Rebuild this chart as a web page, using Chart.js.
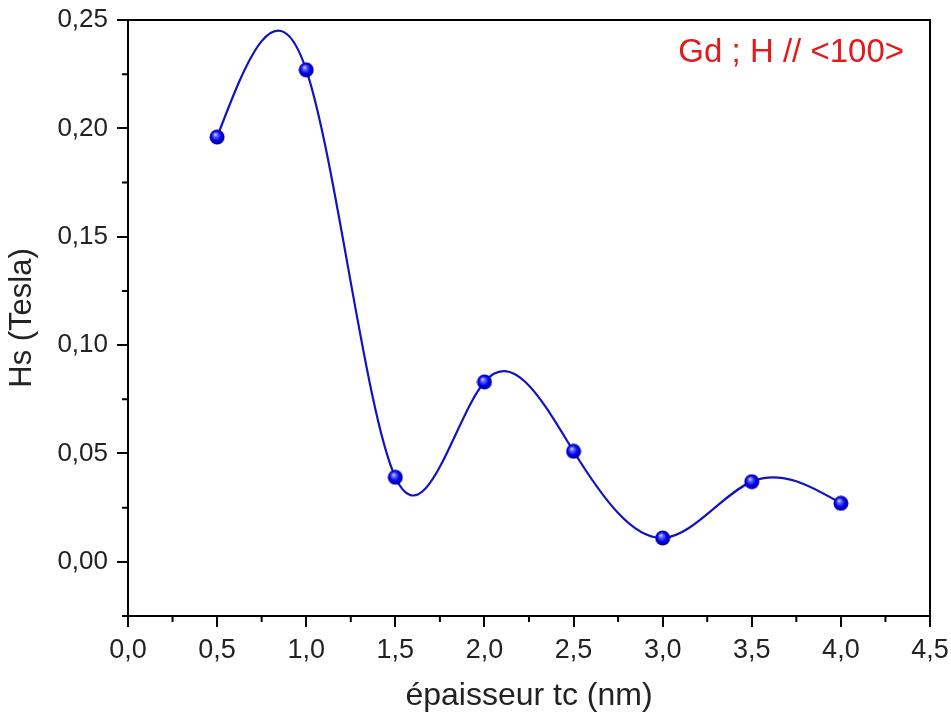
<!DOCTYPE html>
<html>
<head>
<meta charset="utf-8">
<script src="https://cdn.jsdelivr.net/npm/chart.js@4"></script>
<style>
  body { margin: 0; background: #fff; }
  #wrap { width: 951px; height: 715px; }
</style>
</head>
<body>
<div id="wrap"><canvas id="hsChart" width="951" height="715"></canvas></div>
<script>
// values
const thickness = [0.5, 1.0, 1.5, 2.0, 2.5, 3.0, 3.5, 4.0];
const hsTesla = [0.196, 0.227, 0.039, 0.083, 0.051, 0.011, 0.037, 0.027];
const xTicks = [0, 0.5, 1, 1.5, 2, 2.5, 3, 3.5, 4, 4.5];
const yTicks = [0, 0.05, 0.10, 0.15, 0.20, 0.25];
const annotation = "Gd ; H // <100>";

const FONT = "'Liberation Sans', Arial, sans-serif";
const comma = (v, d) => v.toFixed(d).replace(".", ",");

// little shaded ball for the markers
function makeBall(size) {
  const c = document.createElement("canvas");
  c.width = size;
  c.height = size;
  const g = c.getContext("2d");
  const r = size / 2;
  const grad = g.createRadialGradient(r * 0.75, r * 0.65, 0, r, r, r);
  grad.addColorStop(0, "#f0f0ff");
  grad.addColorStop(0.22, "#7070ff");
  grad.addColorStop(0.6, "#0000ee");
  grad.addColorStop(1, "#00008a");
  g.fillStyle = grad;
  g.beginPath();
  g.arc(r, r, r - 0.5, 0, Math.PI * 2);
  g.fill();
  return c;
}

// the original curve is a natural cubic spline (Origin "spline" connect);
// replace chart.js bezier control points with the spline ones
const splinePlugin = {
  id: "naturalSpline",
  beforeDatasetsDraw(chart) {
    const meta = chart.getDatasetMeta(0);
    const pts = meta.data;
    const n = pts.length;
    if (n < 3) return;
    meta.dataset.updateControlPoints(chart.chartArea, "x");
    const xs = pts.map((p) => p.x);
    const ys = pts.map((p) => p.y);
    const h = [];
    for (let i = 0; i < n - 1; i++) h.push(xs[i + 1] - xs[i]);
    // tridiagonal system, natural ends (M0 = Mn-1 = 0)
    const M = new Array(n).fill(0);
    const cp = new Array(n).fill(0);
    const dp = new Array(n).fill(0);
    for (let i = 1; i < n - 1; i++) {
      const a = h[i - 1], b = 2 * (h[i - 1] + h[i]), c = h[i];
      const d = 6 * ((ys[i + 1] - ys[i]) / h[i] - (ys[i] - ys[i - 1]) / h[i - 1]);
      const den = b - a * cp[i - 1];
      cp[i] = c / den;
      dp[i] = (d - a * dp[i - 1]) / den;
    }
    for (let i = n - 2; i >= 1; i--) M[i] = dp[i] - cp[i] * M[i + 1];
    const slope = [];
    for (let i = 0; i < n - 1; i++) {
      slope.push((ys[i + 1] - ys[i]) / h[i] - (h[i] * (2 * M[i] + M[i + 1])) / 6);
    }
    slope.push((ys[n - 1] - ys[n - 2]) / h[n - 2] + (h[n - 2] * (M[n - 2] + 2 * M[n - 1])) / 6);
    pts.forEach((p, i) => {
      if (i > 0) {
        p.cp1x = xs[i] - h[i - 1] / 3;
        p.cp1y = ys[i] - (slope[i] * h[i - 1]) / 3;
      }
      if (i < n - 1) {
        p.cp2x = xs[i] + h[i] / 3;
        p.cp2y = ys[i] + (slope[i] * h[i]) / 3;
      }
    });
  },
};

// frame on top/right, minor ticks, red label
const framePlugin = {
  id: "frame",
  afterDraw(chart) {
    const { ctx, chartArea: a, scales } = chart;
    ctx.save();
    ctx.strokeStyle = "#000";
    ctx.lineWidth = 2;
    ctx.beginPath();
    ctx.moveTo(a.left, a.top);
    ctx.lineTo(a.right, a.top);
    ctx.lineTo(a.right, a.bottom);
    ctx.stroke();

    // minor ticks half way between majors
    ctx.beginPath();
    for (let i = 0; i < xTicks.length - 1; i++) {
      const px = scales.x.getPixelForValue((xTicks[i] + xTicks[i + 1]) / 2);
      ctx.moveTo(px, a.bottom);
      ctx.lineTo(px, a.bottom + 6);
    }
    const yMinor = [-0.025];
    for (let i = 0; i < yTicks.length - 1; i++) yMinor.push((yTicks[i] + yTicks[i + 1]) / 2);
    yMinor.forEach((v) => {
      const py = scales.y.getPixelForValue(v);
      ctx.moveTo(a.left, py);
      ctx.lineTo(a.left - 6, py);
    });
    ctx.stroke();

    ctx.fillStyle = "#e01b1b";
    ctx.font = "33px " + FONT;
    ctx.textAlign = "right";
    ctx.textBaseline = "alphabetic";
    ctx.fillText(annotation, a.right - 26, a.top + 42);
    ctx.restore();
  },
};

new Chart(document.getElementById("hsChart"), {
  type: "line",
  data: {
    datasets: [
      {
        data: thickness.map((x, i) => ({ x: x, y: hsTesla[i] })),
        borderColor: "#1212c4",
        borderWidth: 2.2,
        tension: 0.4,
        pointStyle: makeBall(16),
        pointRadius: 8,
      },
    ],
  },
  options: {
    responsive: false,
    animation: false,
    layout: { padding: { left: 0, right: 21, top: 20, bottom: 0 } },
    plugins: { legend: { display: false }, tooltip: { enabled: false } },
    scales: {
      x: {
        type: "linear",
        min: 0,
        max: 4.5,
        afterBuildTicks: (s) => { s.ticks = xTicks.map((v) => ({ value: v })); },
        afterFit: (s) => {
          s.height = 99;
          s.paddingLeft = 0;
          s.paddingRight = 0;
        },
        border: { color: "#000", width: 2 },
        grid: { drawOnChartArea: false, color: "#000", lineWidth: 2, tickLength: 11 },
        ticks: {
          color: "#222",
          padding: 7,
          maxRotation: 0,
          font: { family: FONT, size: 27 },
          callback: (v) => comma(v, 1),
        },
        title: {
          display: true,
          text: "épaisseur tc (nm)",
          color: "#222",
          padding: { top: 4, bottom: 0 },
          font: { family: FONT, size: 32 },
        },
      },
      y: {
        min: -0.025,
        max: 0.25,
        afterBuildTicks: (s) => { s.ticks = yTicks.map((v) => ({ value: v })); },
        afterFit: (s) => {
          s.width = 128;
          s.paddingTop = 0;
          s.paddingBottom = 0;
        },
        border: { color: "#000", width: 2 },
        grid: { drawOnChartArea: false, color: "#000", lineWidth: 2, tickLength: 11 },
        ticks: {
          color: "#222",
          padding: 9,
          font: { family: FONT, size: 26 },
          callback: (v) => comma(v, 2),
        },
        title: {
          display: true,
          text: "Hs (Tesla)",
          color: "#222",
          padding: { bottom: 4 },
          font: { family: FONT, size: 31 },
        },
      },
    },
  },
  plugins: [splinePlugin, framePlugin],
});
</script>
</body>
</html>
